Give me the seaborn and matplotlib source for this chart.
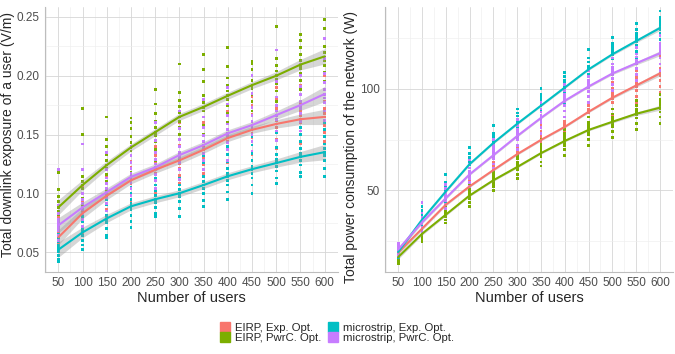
import numpy as np
import pandas as pd
import seaborn as sns
import matplotlib
matplotlib.use("Agg")
import matplotlib.pyplot as plt
from matplotlib.lines import Line2D
from matplotlib.ticker import MultipleLocator, FormatStrFormatter

users = [50, 100, 150, 200, 250, 300, 350, 400, 450, 500, 550, 600]
series = ["EIRP, Exp. Opt.", "EIRP, PwrC. Opt.", "microstrip, Exp. Opt.", "microstrip, PwrC. Opt."]
colors = ["#F8766D", "#7CAE00", "#00BFC4", "#C77CFF"]

# ---------- Left panel: exposure (V/m), point clouds per user count ----------
exp_eirp_exp = [
    [0.054,0.057,0.059,0.061,0.063,0.064,0.066,0.069,0.073,0.080],
    [0.066,0.072,0.077,0.080,0.083,0.085,0.089,0.094,0.100,0.106],
    [0.080,0.086,0.091,0.095,0.098,0.100,0.104,0.109,0.114,0.120],
    [0.093,0.099,0.104,0.108,0.111,0.113,0.117,0.122,0.127,0.132],
    [0.100,0.107,0.113,0.117,0.120,0.122,0.126,0.132,0.140,0.150],
    [0.108,0.115,0.121,0.125,0.128,0.131,0.135,0.141,0.150,0.160],
    [0.117,0.124,0.130,0.134,0.137,0.140,0.144,0.150,0.160,0.170],
    [0.126,0.133,0.139,0.144,0.147,0.150,0.154,0.160,0.170,0.180],
    [0.133,0.141,0.147,0.151,0.154,0.157,0.161,0.167,0.175,0.182],
    [0.138,0.146,0.152,0.156,0.159,0.162,0.166,0.172,0.180,0.190],
    [0.142,0.150,0.156,0.160,0.163,0.166,0.170,0.176,0.184,0.192],
    [0.144,0.152,0.158,0.162,0.165,0.168,0.172,0.178,0.188,0.200],
]
exp_eirp_pwr = [
    [0.072,0.078,0.082,0.085,0.088,0.090,0.093,0.097,0.103,0.118],
    [0.090,0.096,0.100,0.104,0.107,0.110,0.114,0.120,0.150,0.172],
    [0.103,0.110,0.116,0.121,0.124,0.128,0.133,0.140,0.146,0.165],
    [0.118,0.126,0.132,0.136,0.139,0.143,0.148,0.155,0.160,0.164],
    [0.128,0.137,0.144,0.149,0.152,0.156,0.161,0.168,0.176,0.188],
    [0.140,0.150,0.156,0.161,0.165,0.169,0.174,0.179,0.186,0.210],
    [0.150,0.158,0.165,0.170,0.173,0.177,0.183,0.195,0.205,0.218],
    [0.160,0.168,0.175,0.180,0.183,0.187,0.192,0.198,0.208,0.224],
    [0.170,0.178,0.184,0.189,0.192,0.196,0.200,0.205,0.210,0.212],
    [0.178,0.187,0.193,0.197,0.200,0.204,0.209,0.215,0.222,0.242],
    [0.188,0.196,0.202,0.206,0.209,0.213,0.218,0.224,0.230,0.235],
    [0.195,0.203,0.209,0.213,0.216,0.220,0.225,0.232,0.240,0.248],
]
exp_micro_exp = [
    [0.042,0.044,0.047,0.050,0.052,0.054,0.056,0.059,0.062,0.065],
    [0.052,0.056,0.060,0.064,0.067,0.069,0.072,0.076,0.080,0.083],
    [0.062,0.064,0.070,0.075,0.078,0.081,0.085,0.090,0.095,0.100],
    [0.071,0.076,0.081,0.086,0.089,0.091,0.095,0.100,0.105,0.110],
    [0.080,0.083,0.088,0.092,0.095,0.098,0.102,0.107,0.113,0.120],
    [0.080,0.087,0.093,0.097,0.100,0.103,0.107,0.113,0.120,0.128],
    [0.089,0.094,0.100,0.104,0.107,0.110,0.114,0.120,0.126,0.132],
    [0.095,0.101,0.107,0.111,0.114,0.117,0.121,0.127,0.133,0.140],
    [0.100,0.107,0.113,0.117,0.120,0.123,0.128,0.134,0.141,0.148],
    [0.108,0.113,0.119,0.123,0.126,0.129,0.133,0.139,0.145,0.152],
    [0.114,0.118,0.124,0.128,0.131,0.134,0.138,0.144,0.150,0.156],
    [0.114,0.121,0.128,0.132,0.135,0.138,0.142,0.148,0.154,0.160],
]
exp_micro_pwr = [
    [0.060,0.064,0.068,0.071,0.073,0.075,0.078,0.083,0.090,0.120],
    [0.072,0.078,0.083,0.086,0.088,0.091,0.095,0.100,0.120,0.142],
    [0.085,0.091,0.096,0.099,0.101,0.104,0.108,0.113,0.120,0.135],
    [0.098,0.104,0.109,0.112,0.114,0.117,0.121,0.126,0.132,0.140],
    [0.104,0.111,0.116,0.120,0.122,0.125,0.129,0.135,0.145,0.160],
    [0.112,0.120,0.126,0.130,0.132,0.135,0.140,0.146,0.155,0.170],
    [0.120,0.128,0.134,0.138,0.141,0.144,0.149,0.156,0.165,0.180],
    [0.128,0.137,0.143,0.148,0.151,0.154,0.159,0.166,0.176,0.190],
    [0.136,0.144,0.150,0.155,0.158,0.161,0.166,0.173,0.185,0.200],
    [0.145,0.153,0.159,0.163,0.166,0.170,0.175,0.182,0.195,0.222],
    [0.153,0.161,0.168,0.172,0.175,0.178,0.184,0.191,0.200,0.210],
    [0.162,0.170,0.177,0.181,0.184,0.188,0.194,0.202,0.215,0.232],
]
# smoothed trend lines and CI half-widths
exp_smooth = {
    "EIRP, Exp. Opt.":        [0.0625,0.083,0.098,0.111,0.120,0.128,0.137,0.147,0.154,0.159,0.163,0.165],
    "EIRP, PwrC. Opt.":       [0.088,0.107,0.124,0.139,0.152,0.165,0.1735,0.183,0.192,0.200,0.2095,0.2165],
    "microstrip, Exp. Opt.":  [0.052,0.0667,0.0786,0.0889,0.0949,0.100,0.107,0.1145,0.1205,0.1257,0.131,0.135],
    "microstrip, PwrC. Opt.": [0.0727,0.088,0.101,0.114,0.122,0.1325,0.141,0.151,0.158,0.1665,0.175,0.1845],
}
exp_band = [0.0065,0.0045,0.0035,0.003,0.003,0.003,0.003,0.003,0.003,0.0035,0.0045,0.0065]

# ---------- Right panel: power consumption (W) ----------
pow_eirp_exp = [
    [17,18,19,19.5,20,20.5,21,22],
    [28,29.5,30.5,31,31.5,32,33,34,35],
    [39,40.5,42,42.5,43,44,45,46.5,48],
    [47,49,50.5,51.5,52.5,53.5,54.5,56,59],
    [54,56,58,59.5,60.5,61.5,62.5,64,67],
    [62,64,66,67.5,68.5,69.5,70.5,72,75],
    [68,70,73,74.5,75.5,76.5,77.5,79,82],
    [74,76,79,80.5,81.5,82.5,84,86,89],
    [80,83,86,88,89,90,91.5,93,96],
    [87,90,93,95,96,97,98.5,100,103],
    [93,96,99,101,102,103,104.5,106,109],
    [98,101,104,106.5,107.5,108.5,110,112,116],
]
pow_eirp_pwr = [
    [14,15,16,17,17.5,18,18.5,19.5],
    [25,26.5,27.5,28.5,29,29.5,30.5,31.5,33],
    [34,35.5,37,38,38.5,39,40,41.5,43],
    [42,44,46,47,48,49,50,51.5,53],
    [50,52,53.5,54.5,55.5,56.5,57.5,59,61],
    [56,58,60,61,62,63,64,65.5,67],
    [62,64,66.5,68,69,70,71,72.5,75],
    [67,70,72,73.5,74.5,75.5,76.5,78,80],
    [72,75,77.5,79,80,81,82,83.5,86],
    [76,79,81.5,83,84,85,86,87.5,90],
    [80,83,85.5,87,88,89,90,91.5,94],
    [83,86,88.5,90,91,92,93,94.5,97],
]
pow_micro_exp = [
    [17,18,19,19.5,20,20.5,21,22,23],
    [31,33,34.5,35.5,36,37,38,40,42],
    [44,46,48,49,50,51,52.5,54,58],
    [56,59,61,62.5,63.5,64.5,66,68,71],
    [66,69,71,73,74,75,76.5,78,82],
    [75,78,80.5,82.5,83.5,85,86.5,88,90],
    [84,87,89.5,91.5,92.5,94,95.5,97,100],
    [93,96,98.5,100,101,102.5,104,106,108],
    [101,104,107,109,110,111,113,115,119],
    [109,112,114.5,116.5,117.5,119,120.5,122,125],
    [115,118,121,123,124,125.5,127,129,132],
    [121,124,127,129,130.5,132,133.5,135,138],
]
pow_micro_pwr = [
    [18,19,20,20.5,21,21.5,22,23,24],
    [30,32,33.5,34,35,36,37,39,44],
    [41,43,45,46,46.5,47.5,49,51,53],
    [52,54,56,57.5,58.5,59.5,61,63,65],
    [61,63,65.5,67,68,69,70.5,72,75],
    [70,72,75,76.5,77.5,78.5,80,82,85],
    [78,81,83.5,85,86,87,88.5,90,93],
    [86,89,91.5,93.5,94.5,95.5,97,99,102],
    [93,96,98.5,100.5,101.5,102.5,104,106,109],
    [99,102,105,107,108,109,110.5,112,115],
    [104,107,110,112,113,114,115.5,117,120],
    [109,112,115,117,118,119,120.5,122,126],
]
pow_smooth = {
    "EIRP, Exp. Opt.":        [19.5,31.2,43.0,52.0,60.0,67.8,74.8,81.2,88.6,95.5,101.5,107.4],
    "EIRP, PwrC. Opt.":       [17.3,28.7,38.1,47.5,55.0,61.5,68.3,74.3,79.7,83.7,87.6,90.6],
    "microstrip, Exp. Opt.":  [19.8,35.6,49.5,62.9,73.3,82.7,91.6,100.5,109.4,116.8,123.3,129.7],
    "microstrip, PwrC. Opt.": [21.0,34.3,46.2,57.9,67.3,76.7,85.6,94.0,101.0,107.4,112.4,117.3],
}
pow_band = [1.0,0.7,0.6,0.5,0.5,0.5,0.5,0.5,0.5,0.6,0.8,1.2]


def long_df(groups):
    rows = []
    for name, lists in zip(series, groups):
        for u, vals in zip(users, lists):
            for v in vals:
                rows.append((name, u, v))
    return pd.DataFrame(rows, columns=["series", "users", "value"])


exp_df = long_df([exp_eirp_exp, exp_eirp_pwr, exp_micro_exp, exp_micro_pwr])
pow_df = long_df([pow_eirp_exp, pow_eirp_pwr, pow_micro_exp, pow_micro_pwr])

sns.set_theme(style="white")
plt.rcParams["font.family"] = ["Liberation Sans", "DejaVu Sans"]

fig = plt.figure(figsize=(6.75, 3.54), dpi=100)
axL = fig.add_axes([0.0667, 0.2316, 0.434, 0.7486])
axR = fig.add_axes([0.5704, 0.2316, 0.4267, 0.7486])
palette = dict(zip(series, colors))


def draw(ax, df, smooth, band, ylabel, ylim, ymaj, ymin):
    sns.scatterplot(data=df, x="users", y="value", hue="series", palette=palette,
                    hue_order=series, s=4, marker="s", linewidth=0, legend=False,
                    ax=ax, zorder=3)
    for name in series:
        sm = np.array(smooth[name])
        bw = np.array(band)
        ax.fill_between(users, sm - bw, sm + bw, color="#999999", alpha=0.4,
                        linewidth=0, zorder=4)
        sdf = pd.DataFrame({"users": users, "value": sm})
        sns.lineplot(data=sdf, x="users", y="value", color=palette[name], lw=1.5,
                     ax=ax, zorder=5)
    ax.set_xlim(22.5, 627.5)
    ax.set_ylim(*ylim)
    ax.set_xticks(users)
    ax.set_xticks([25] + [u + 25 for u in users[:-1]], minor=True)
    ax.yaxis.set_major_locator(MultipleLocator(ymaj))
    ax.yaxis.set_minor_locator(MultipleLocator(ymin))
    ax.grid(True, which="major", color="#D6D6D6", lw=0.6, zorder=0)
    ax.grid(True, which="minor", color="#EDEDED", lw=0.4, zorder=0)
    ax.set_axisbelow(True)
    for s in ["top", "right"]:
        ax.spines[s].set_visible(False)
    for s in ["left", "bottom"]:
        ax.spines[s].set_color("#BDBDBD")
        ax.spines[s].set_linewidth(0.8)
    ax.tick_params(axis="both", which="major", labelsize=8.5, labelcolor="#4D4D4D",
                   length=2.5, width=0.6, color="#BDBDBD", pad=1.2)
    ax.tick_params(axis="both", which="minor", length=0)
    ax.set_xlabel("Number of users", fontsize=10.5, labelpad=1)
    ax.set_ylabel(ylabel, fontsize=10, labelpad=2)


draw(axL, exp_df, exp_smooth, exp_band, "Total downlink exposure of a user (V/m)",
     (0.033, 0.2585), 0.05, 0.025)
axL.yaxis.set_major_formatter(FormatStrFormatter("%.2f"))
draw(axR, pow_df, pow_smooth, pow_band, "Total power consumption of the network (W)",
     (10, 140), 50, 25)
axL.yaxis.set_label_coords(-0.102, 0.52)
axR.yaxis.set_label_coords(-0.095, 0.47)

handles = [Line2D([0], [0], marker="s", linestyle="", color=c, markersize=6.5) for c in colors]
fig.legend(handles, series, ncol=2, loc="center", bbox_to_anchor=(0.5, 0.06),
           frameon=False, fontsize=8.2, handletextpad=0.5, columnspacing=0.6,
           labelspacing=0.0, handlelength=0.8)

fig.savefig("out.png", dpi=100)
